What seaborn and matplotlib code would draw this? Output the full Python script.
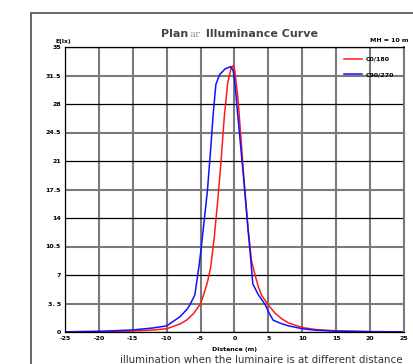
import matplotlib
matplotlib.use("Agg")
import matplotlib.pyplot as plt
from matplotlib.patches import Rectangle
import seaborn as sns
import pandas as pd
import numpy as np

# -----------------------------
# data
# -----------------------------
c0_x = [-25, -20, -15, -12, -10, -8, -7, -6, -5, -4.5, -4, -3.5, -3, -2.5, -2, -1.5, -1, -0.5, -0.2,
        0, 0.5, 1, 1.5, 2, 2.5, 3, 3.5, 4, 5, 6, 7, 8, 10, 12, 15, 20, 25]
c0_y = [0.03, 0.06, 0.12, 0.25, 0.4, 1.0, 1.5, 2.3, 3.5, 4.7, 6.1, 8.0, 11.5, 15.9, 20.8, 26.5, 30.6, 32.4, 32.7,
        32.3, 28.8, 23.2, 17.6, 12.8, 8.8, 7.1, 5.6, 4.5, 3.3, 2.3, 1.6, 1.1, 0.55, 0.3, 0.14, 0.05, 0.02]

c90_x = [-25, -20, -15, -12, -10, -8, -7, -6.6, -5.85, -5.2, -4.9, -4, -3.5, -3.15, -2.75, -2.2, -1.4, -0.55,
         -0.2, 0, 0.5, 1, 1.5, 2, 2.4, 2.7, 3.5, 4, 4.5, 5, 5.7, 7, 8, 10, 12, 15, 20, 25]
c90_y = [0.02, 0.08, 0.25, 0.5, 0.75, 1.9, 2.8, 3.3, 4.55, 8.3, 10.4, 17.3, 22.6, 26.7, 30.4, 31.6, 32.3, 32.6,
         32.1, 31.0, 26.5, 22.0, 17.5, 12.5, 8.9, 5.9, 4.6, 4.0, 3.4, 2.5, 1.45, 1.0, 0.75, 0.4, 0.22, 0.1, 0.04, 0.02]

series_names = ["C0/180", "C90/270"]
x_ticks = [-25, -20, -15, -10, -5, 0, 5, 10, 15, 20, 25]
y_major = [0, 7, 14, 21, 28, 35]
y_minor = [3.5, 10.5, 17.5, 24.5, 31.5]
y_major_labels = ["0", "7", "14", "21", "28", "35"]
y_minor_labels = ["3. 5", "10.5", "17.5", "24.5", "31.5"]

df = pd.concat([
    pd.DataFrame({"d": c0_x, "E": c0_y, "curve": series_names[0]}),
    pd.DataFrame({"d": c90_x, "E": c90_y, "curve": series_names[1]}),
])

W, H = 414, 364
fig = plt.figure(figsize=(W / 100, H / 100), dpi=100)
plt.rcParams['font.family'] = ['DejaVu Sans']
ax = fig.add_axes([65 / W, 1 - 332 / H, (404 - 65) / W, (332 - 47) / H])

sns.lineplot(data=df, x="d", y="E", hue="curve", palette=["#ff1a1a", "#1010ff"],
             estimator=None, sort=False, linewidth=1.1, ax=ax)

ax.set_xlim(-25, 25)
ax.set_ylim(0, 35)
ax.set_xticks(x_ticks)
ax.set_xticklabels([str(t) for t in x_ticks])
ax.set_yticks(y_major)
ax.set_yticklabels(y_major_labels)
ax.set_yticks(y_minor, minor=True)
ax.set_yticklabels(y_minor_labels, minor=True)
ax.tick_params(axis="both", which="both", length=0, labelsize=4.5, pad=3)
for lab in ax.get_xticklabels() + ax.get_yticklabels() + ax.get_yticklabels(minor=True):
    lab.set_fontweight("bold")

# grid: grey thick verticals / odd rows, black thin even rows
ax.set_axisbelow(True)
ax.xaxis.grid(True, color="#7a7a7a", linewidth=1.5)
ax.yaxis.grid(True, which="major", color="black", linewidth=0.9)
ax.yaxis.grid(True, which="minor", color="#7a7a7a", linewidth=1.5)
for s in ["left", "bottom", "top"]:
    ax.spines[s].set_color("black")
    ax.spines[s].set_linewidth(0.9)
ax.spines["right"].set_color("#7a7a7a")
ax.spines["right"].set_linewidth(1.5)

ax.set_xlabel("Distance (m)", fontsize=4.5, fontweight="bold", labelpad=4)
ax.set_ylabel("")

leg = ax.legend(loc="upper right", frameon=False, fontsize=4.5, handlelength=3.0,
                handletextpad=0.6, borderaxespad=1.1, labelspacing=1.6)
for t in leg.get_texts():
    t.set_fontweight("bold")

# outer frame
fig.patches.append(Rectangle((31 / W, -0.2), 1.0, 1.2 - 13 / H, transform=fig.transFigure,
                             fill=False, edgecolor="#666666", linewidth=1.4))

# title in three pieces
ty = 1 - 37 / H
t1 = fig.text(161 / W, ty, "Plan", fontsize=8, fontweight="bold", color="#444444")
t2 = fig.text(0, 0, "ar", fontsize=7.5, color="#9a9a9a", family="DejaVu Serif")
t3 = fig.text(0, 0, " Illuminance Curve", fontsize=8, fontweight="bold", color="#444444")
fig.canvas.draw()
r = fig.canvas.get_renderer()
bb1 = t1.get_window_extent(r)
t2.set_position((bb1.x1 / W + 0.002, ty))
bb2 = t2.get_window_extent(r)
t3.set_position((bb2.x1 / W + 0.004, ty))

fig.text(63 / W, 1 - 43 / H, "E(lx)", fontsize=4.3, fontweight="bold", ha="center")
fig.text(409 / W, 1 - 42 / H, "MH = 10 m", fontsize=4.5, fontweight="bold", ha="right")
fig.text(120 / W, 1 - 355 / H, "illumination when the luminaire is at different distance",
         fontsize=7.4, color="#333333", va="top")

fig.savefig("out.png", dpi=100)
